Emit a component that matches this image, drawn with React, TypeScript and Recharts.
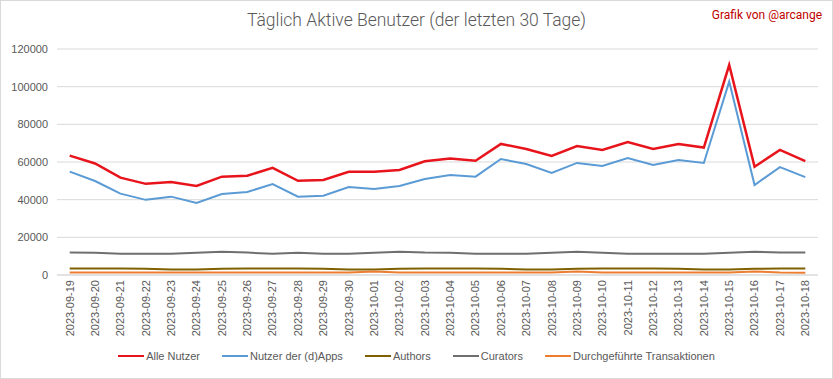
import { LineChart, Line, XAxis, YAxis, CartesianGrid, Legend } from 'recharts';

const dates = [
  '2023-09-19', '2023-09-20', '2023-09-21', '2023-09-22', '2023-09-23', '2023-09-24',
  '2023-09-25', '2023-09-26', '2023-09-27', '2023-09-28', '2023-09-29', '2023-09-30',
  '2023-10-01', '2023-10-02', '2023-10-03', '2023-10-04', '2023-10-05', '2023-10-06',
  '2023-10-07', '2023-10-08', '2023-10-09', '2023-10-10', '2023-10-11', '2023-10-12',
  '2023-10-13', '2023-10-14', '2023-10-15', '2023-10-16', '2023-10-17', '2023-10-18',
];

const alleNutzer = [
  63400, 59200, 51700, 48400, 49400, 47300, 52200, 52700, 56900, 50000, 50500, 54800,
  54800, 55800, 60400, 61800, 60700, 69600, 66900, 63200, 68500, 66400, 70600, 66900,
  69600, 67700, 111500, 57500, 66400, 60500,
];

const dappNutzer = [
  54900, 49900, 43200, 39900, 41600, 38300, 43000, 44100, 48300, 41600, 42100, 46700,
  45700, 47300, 51000, 53100, 52200, 61600, 58900, 54200, 59500, 57900, 62100, 58400,
  61100, 59500, 102700, 47800, 57300, 52000,
];

const authors = [
  3400, 3400, 3400, 3300, 2900, 2900, 3300, 3400, 3400, 3400, 3300, 2900,
  2900, 3300, 3400, 3400, 3400, 3300, 2900, 2900, 3300, 3400, 3400, 3400,
  3300, 2900, 2900, 3300, 3400, 3400,
];

const curators = [
  11900, 11800, 11300, 11300, 11300, 11800, 12300, 11900, 11300, 11800, 11300, 11300,
  11800, 12300, 11900, 11800, 11300, 11300, 11300, 11800, 12300, 11800, 11300, 11300,
  11300, 11300, 11800, 12400, 11900, 11900,
];

const transaktionen = [
  1300, 1300, 1300, 1300, 1300, 1300, 1300, 1300, 1300, 1300, 1300, 1300,
  1900, 1300, 1300, 1300, 1300, 1300, 1300, 1300, 1900, 1300, 1300, 1300,
  1300, 1300, 1300, 1900, 1300, 1200,
];

const yTicks = [0, 20000, 40000, 60000, 80000, 100000, 120000];

const series = [
  { key: 'alle', name: 'Alle Nutzer', color: '#e8141c', width: 2.5 },
  { key: 'dapps', name: 'Nutzer der (d)Apps', color: '#5b9bd5', width: 2 },
  { key: 'authors', name: 'Authors', color: '#7f6000', width: 2 },
  { key: 'curators', name: 'Curators', color: '#6f6f6f', width: 2 },
  { key: 'trx', name: 'Durchgeführte Transaktionen', color: '#ed7d31', width: 2 },
];

const data = dates.map((d, i) => ({
  date: d,
  alle: alleNutzer[i],
  dapps: dappNutzer[i],
  authors: authors[i],
  curators: curators[i],
  trx: transaktionen[i],
}));

const FONT = '"Liberation Sans", Arial, sans-serif';

function DateTick(props: any) {
  const { x, y, payload } = props;
  return (
    <g transform={`translate(${x},${y})`}>
      <text transform="rotate(-90)" textAnchor="end" dy="0.35em" fill="#595959" fontSize={11} fontFamily={FONT}>
        {payload.value}
      </text>
    </g>
  );
}

function LegendBox() {
  return (
    <div style={{ display: 'flex', justifyContent: 'center', gap: 22, fontFamily: FONT, fontSize: 11, color: '#595959' }}>
      {series.map((s) => (
        <div key={s.key} style={{ display: 'flex', alignItems: 'center' }}>
          <span style={{ display: 'inline-block', width: 26, height: 2, background: s.color, marginRight: 2 }} />
          <span>{s.name}</span>
        </div>
      ))}
    </div>
  );
}

export default function App() {
  return (
    <div
      style={{
        position: 'absolute', left: 0, top: 0, width: 833, height: 379, background: '#fff',
        outline: '1px solid #d9d9d9', outlineOffset: -1,
      }}
    >
      <div
        style={{
          position: 'absolute', left: 0, width: 833, top: 10, textAlign: 'center',
          fontFamily: 'Roboto, sans-serif', fontWeight: 300, fontSize: 17.5, color: '#595959',
        }}
      >
        Täglich Aktive Benutzer (der letzten 30 Tage)
      </div>
      <div
        style={{
          position: 'absolute', right: 11, top: 8, fontFamily: 'Roboto, sans-serif',
          fontSize: 12, color: '#c00000',
        }}
      >
        Grafik von @arcange
      </div>
      <LineChart width={833} height={379} data={data} margin={{ top: 49, right: 15, left: 0, bottom: 0 }}>
        <CartesianGrid horizontal vertical={false} stroke="#d9d9d9" />
        <XAxis
          dataKey="date"
          height={104}
          interval={0}
          padding={{ left: 12.7, right: 12.7 }}
          tickLine={false}
          tickSize={0}
          tickMargin={5}
          axisLine={{ stroke: '#d9d9d9' }}
          tick={<DateTick />}
        />
        <YAxis
          width={57}
          domain={[0, 120000]}
          ticks={yTicks}
          interval={0}
          axisLine={false}
          tickLine={false}
          tickSize={0}
          tickMargin={9}
          tick={{ fill: '#595959', fontSize: 11, fontFamily: FONT }}
        />
        <Legend
          layout="horizontal"
          verticalAlign="middle"
          align="center"
          wrapperStyle={{ top: 350, left: 0, width: 833 }}
          content={<LegendBox />}
        />
        {series.map((s) => (
          <Line
            key={s.key}
            type="linear"
            dataKey={s.key}
            name={s.name}
            stroke={s.color}
            strokeWidth={s.width}
            dot={false}
            activeDot={false}
            isAnimationActive={false}
          />
        ))}
      </LineChart>
    </div>
  );
}
